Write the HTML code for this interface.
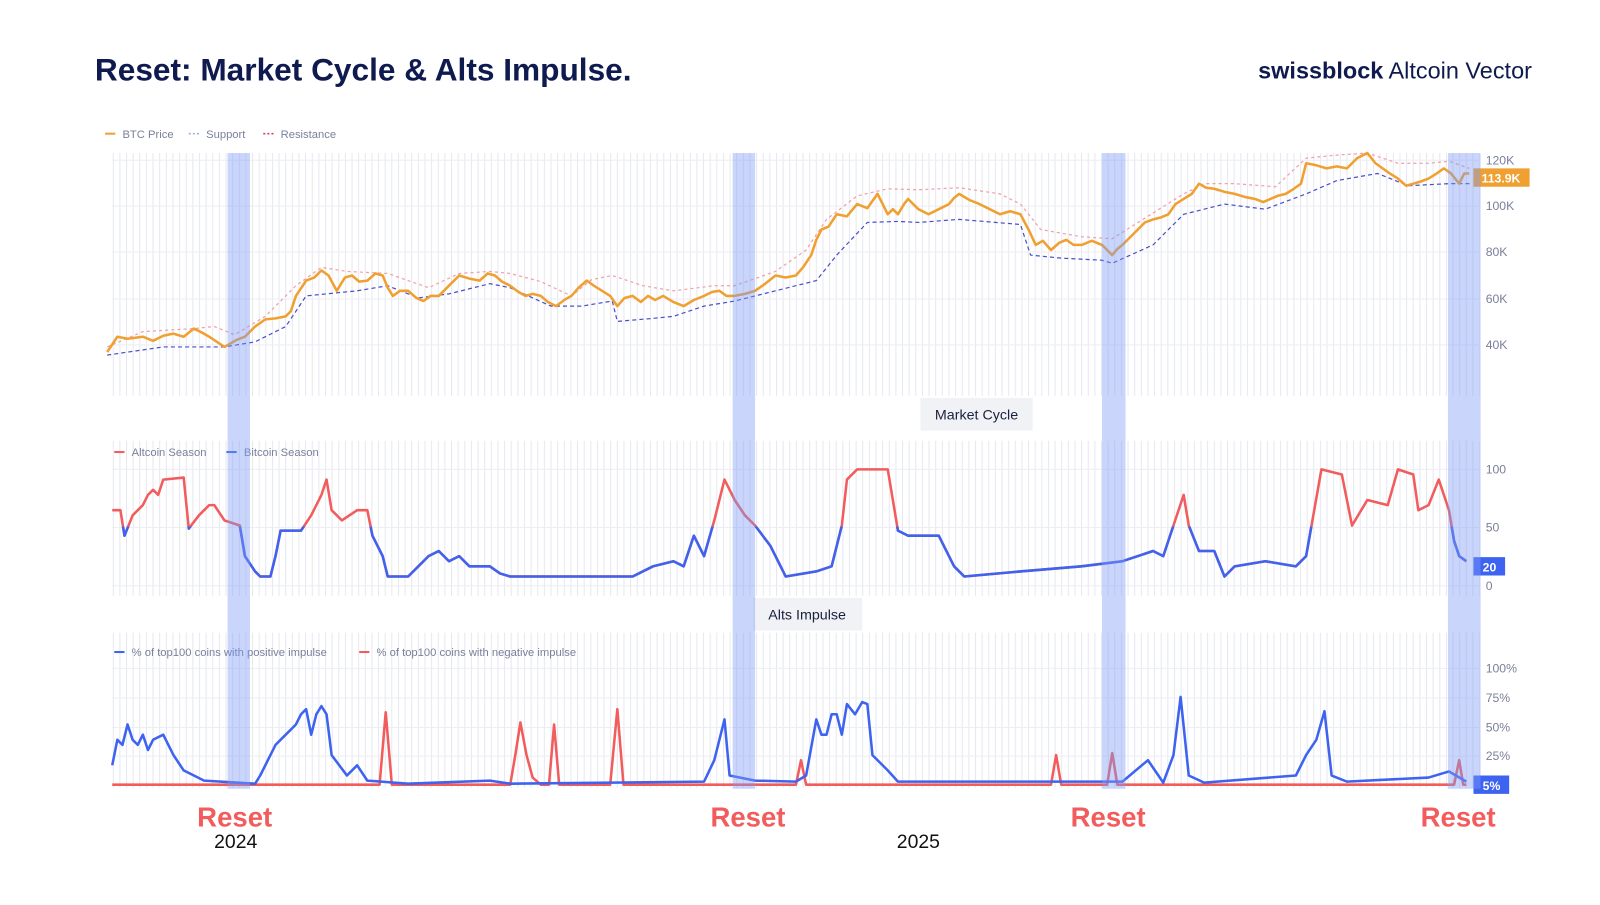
<!DOCTYPE html><html><head><meta charset="utf-8"><style>
body{margin:0;background:#fff;width:1600px;height:900px;overflow:hidden;font-family:"Liberation Sans",sans-serif}
</style></head><body>
<svg width="1600" height="900" xmlns="http://www.w3.org/2000/svg" font-family="Liberation Sans, sans-serif">
<defs>
<pattern id="vg" width="6.5" height="10" patternUnits="userSpaceOnUse"><line x1="0.5" y1="0" x2="0.5" y2="10" stroke="#e6e8f0" stroke-width="1"/></pattern>
<clipPath id="below"><rect x="0" y="516" width="1600" height="100"/></clipPath>
</defs>
<g transform="scale(1.0204)">
<text x="93" y="79" font-size="31" font-weight="bold" fill="#0f1a4f">Reset: Market Cycle &amp; Alts Impulse.</text>
<text x="1233" y="77" font-size="23" fill="#0f1a4f"><tspan font-weight="bold">swissblock</tspan> Altcoin Vector</text>
<rect x="110" y="150" width="1340" height="238" fill="url(#vg)"/>
<rect x="110" y="432" width="1340" height="152" fill="url(#vg)"/>
<rect x="110" y="620" width="1340" height="152" fill="url(#vg)"/>
<g stroke="#eceef4">
<line x1="110" y1="157" x2="1450" y2="157"/><line x1="110" y1="202" x2="1450" y2="202"/><line x1="110" y1="247" x2="1450" y2="247"/><line x1="110" y1="293" x2="1450" y2="293"/><line x1="110" y1="338" x2="1450" y2="338"/>
<line x1="110" y1="460" x2="1450" y2="460"/><line x1="110" y1="517" x2="1450" y2="517"/><line x1="110" y1="574" x2="1450" y2="574"/>
<line x1="110" y1="655" x2="1450" y2="655"/><line x1="110" y1="684" x2="1450" y2="684"/><line x1="110" y1="713" x2="1450" y2="713"/><line x1="110" y1="741" x2="1450" y2="741"/>
</g>
<g font-size="11" fill="#7a809a">
<line x1="103" y1="131" x2="113" y2="131" stroke="#f0a030" stroke-width="2"/><text x="120" y="135">BTC Price</text>
<line x1="185" y1="131" x2="195" y2="131" stroke="#9fb0e8" stroke-width="1.5" stroke-dasharray="2 2"/><text x="202" y="135">Support</text>
<line x1="258" y1="131" x2="268" y2="131" stroke="#d04060" stroke-width="1.5" stroke-dasharray="2 2"/><text x="275" y="135">Resistance</text>
<line x1="112" y1="443" x2="122" y2="443" stroke="#f25c5c" stroke-width="2"/><text x="129" y="447">Altcoin Season</text>
<line x1="222" y1="443" x2="232" y2="443" stroke="#3d63f0" stroke-width="2"/><text x="239" y="447">Bitcoin Season</text>
<line x1="112" y1="639" x2="122" y2="639" stroke="#3d63f0" stroke-width="2"/><text x="129" y="643">% of top100 coins with positive impulse</text>
<line x1="352" y1="639" x2="362" y2="639" stroke="#f25c5c" stroke-width="2"/><text x="369" y="643">% of top100 coins with negative impulse</text>
</g>
<g font-size="12" fill="#7a809a">
<text x="1456" y="161">120K</text><text x="1456" y="206">100K</text><text x="1456" y="251">80K</text><text x="1456" y="297">60K</text><text x="1456" y="342">40K</text>
<text x="1456" y="464">100</text><text x="1456" y="521">50</text><text x="1456" y="578">0</text>
<text x="1456" y="659">100%</text><text x="1456" y="688">75%</text><text x="1456" y="717">50%</text><text x="1456" y="745">25%</text>
</g>
<rect x="1444" y="165" width="55" height="18" fill="#f0a030"/><text x="1452" y="179" font-size="12" font-weight="bold" fill="#fff">113.9K</text>
<rect x="1444" y="546" width="31" height="18" fill="#3d63f0"/><text x="1453" y="560" font-size="12" font-weight="bold" fill="#fff">20</text>
<rect x="1444" y="760" width="35" height="18" fill="#3d63f0"/><text x="1453" y="774" font-size="12" font-weight="bold" fill="#fff">5%</text>
<rect x="902" y="390" width="110" height="32" fill="#f1f2f5"/><text x="957" y="411" font-size="14" text-anchor="middle" fill="#1a2040">Market Cycle</text>
<rect x="738" y="586" width="107" height="32" fill="#f1f2f5"/><text x="791" y="607" font-size="14" text-anchor="middle" fill="#1a2040">Alts Impulse</text>
<polyline fill="none" stroke="#f0a0a8" stroke-width="1.2" stroke-dasharray="3 3" points="105,340 140,325 190,322 210,320 230,328 260,310 290,280 315,262 340,266 380,268 420,282 450,268 480,266 500,268 530,276 560,290 580,274 600,270 630,280 660,285 700,280 720,280 760,266 790,245 810,215 840,192 870,185 900,186 940,184 980,190 1000,200 1020,225 1060,232 1090,234 1120,215 1160,190 1180,180 1210,180 1250,183 1280,155 1310,152 1340,150 1370,160 1400,160 1420,158 1440,165"/>
<polyline fill="none" stroke="#4a50c8" stroke-width="1.2" stroke-dasharray="4 3" points="105,348 160,340 220,340 250,335 280,320 300,290 350,285 380,280 410,292 440,288 480,278 500,282 540,300 570,300 600,295 605,315 640,312 660,310 690,300 720,295 760,285 800,275 820,250 850,218 880,217 900,218 940,215 1000,220 1010,250 1040,253 1080,255 1090,258 1130,240 1160,210 1200,200 1240,205 1280,190 1310,177 1350,170 1380,182 1420,180 1440,180"/>
<polyline fill="none" stroke="#f0a030" stroke-width="2.5" stroke-linejoin="round" points="105,345 115,330 125,332 140,330 150,334 160,329 170,327 180,330 190,322 198,326 205,330 220,340 232,333 240,330 250,320 260,313 270,312 280,310 285,305 290,290 300,275 308,272 315,265 322,270 330,285 338,272 345,270 352,276 360,275 368,268 375,270 380,282 385,290 392,285 400,285 408,292 415,295 422,290 430,290 440,280 450,270 460,273 470,275 478,268 485,270 492,276 500,280 508,286 515,290 522,288 530,290 537,296 545,300 553,294 560,290 567,282 575,275 582,280 590,285 598,290 605,300 612,292 620,290 628,296 635,290 642,294 650,290 660,296 670,300 680,294 690,290 698,286 705,285 712,290 720,290 730,288 740,285 750,278 760,270 770,272 780,270 787,262 795,250 800,235 805,225 812,222 820,210 830,212 840,200 850,204 860,190 865,200 870,210 875,205 880,210 886,200 890,195 900,205 910,210 920,205 930,200 935,194 940,190 950,196 960,200 970,205 980,210 990,207 1000,210 1008,225 1015,240 1022,236 1030,245 1038,238 1045,235 1052,240 1060,240 1070,236 1080,240 1086,246 1090,250 1095,244 1100,240 1108,232 1115,225 1122,218 1130,215 1138,213 1145,210 1152,200 1160,195 1168,190 1175,180 1182,184 1190,185 1200,188 1210,190 1220,193 1230,195 1238,198 1245,195 1252,192 1260,190 1268,185 1275,180 1280,160 1290,162 1300,165 1310,163 1320,165 1330,155 1340,150 1348,160 1355,165 1362,170 1370,175 1378,182 1385,180 1392,178 1400,175 1408,170 1415,165 1422,170 1430,180 1435,170 1440,170"/>
<polyline fill="none" stroke="#f25c5c" stroke-width="2.5" stroke-linejoin="round" points="110,500 118,500 122,525 130,505 140,495 145,485 150,480 155,485 160,470 180,468 185,518 195,505 205,495 210,495 220,510 235,515 240,545 250,560 255,565 265,565 270,545 275,520 285,520 295,520 305,505 315,485 320,470 325,500 335,510 350,500 360,500 365,525 375,545 380,565 400,565 410,555 420,545 430,540 440,550 450,545 460,555 480,555 490,562 500,565 560,565 620,565 640,555 660,550 670,555 680,525 690,545 700,510 710,470 720,490 730,505 740,515 755,535 765,555 770,565 800,560 815,555 825,515 830,470 840,460 870,460 880,520 890,525 900,525 920,525 935,555 945,565 1000,560 1060,555 1100,550 1130,540 1140,545 1150,515 1160,485 1165,515 1175,540 1190,540 1200,565 1210,555 1240,550 1270,555 1280,545 1295,460 1315,465 1325,515 1340,490 1360,495 1370,460 1385,465 1390,500 1400,495 1410,470 1420,500 1425,530 1430,545 1437,550"/>
<polyline fill="none" clip-path="url(#below)" stroke="#3d63f0" stroke-width="2.5" stroke-linejoin="round" points="110,500 118,500 122,525 130,505 140,495 145,485 150,480 155,485 160,470 180,468 185,518 195,505 205,495 210,495 220,510 235,515 240,545 250,560 255,565 265,565 270,545 275,520 285,520 295,520 305,505 315,485 320,470 325,500 335,510 350,500 360,500 365,525 375,545 380,565 400,565 410,555 420,545 430,540 440,550 450,545 460,555 480,555 490,562 500,565 560,565 620,565 640,555 660,550 670,555 680,525 690,545 700,510 710,470 720,490 730,505 740,515 755,535 765,555 770,565 800,560 815,555 825,515 830,470 840,460 870,460 880,520 890,525 900,525 920,525 935,555 945,565 1000,560 1060,555 1100,550 1130,540 1140,545 1150,515 1160,485 1165,515 1175,540 1190,540 1200,565 1210,555 1240,550 1270,555 1280,545 1295,460 1315,465 1325,515 1340,490 1360,495 1370,460 1385,465 1390,500 1400,495 1410,470 1420,500 1425,530 1430,545 1437,550"/>
<polyline fill="none" stroke="#f25c5c" stroke-width="2.5" stroke-linejoin="round" points="110,769 372,769 378,698 384,769 500,769 505,740 510,708 516,740 522,762 530,769 538,769 543,710 548,769 598,769 605,695 611,769 780,769 785,745 790,769 1030,769 1035,740 1040,769 1085,769 1090,738 1095,769 1425,769 1430,745 1434,769 1437,769"/>
<polyline fill="none" stroke="#3d63f0" stroke-width="2.5" stroke-linejoin="round" points="110,750 115,725 120,730 125,710 130,725 135,730 140,720 145,735 150,725 160,720 165,730 170,740 180,755 200,765 250,768 255,760 260,750 270,730 280,720 290,710 295,700 300,695 305,720 310,700 315,692 320,700 325,740 340,760 350,750 360,765 400,768 480,765 500,768 690,766 700,745 705,725 710,705 715,760 740,765 780,766 790,760 800,705 805,720 810,720 815,700 820,700 825,720 830,690 838,700 845,688 850,690 855,740 870,755 880,766 1100,766 1125,745 1140,767 1150,740 1157,683 1165,760 1180,767 1270,760 1280,740 1290,725 1298,697 1305,760 1320,766 1400,762 1420,756 1437,766"/>
<g fill="#7f9cf5" fill-opacity="0.42">
<rect x="223" y="150" width="22" height="623"/><rect x="718" y="150" width="22" height="623"/><rect x="1080" y="150" width="23" height="623"/><rect x="1419" y="150" width="32" height="623"/>
</g>
<g font-size="27" font-weight="bold" fill="#f25c5c" text-anchor="middle">
<text x="230" y="810">Reset</text><text x="733" y="810">Reset</text><text x="1086" y="810">Reset</text><text x="1429" y="810">Reset</text>
</g>
<text x="231" y="831" font-size="19" text-anchor="middle" fill="#111">2024</text>
<text x="900" y="831" font-size="19" text-anchor="middle" fill="#111">2025</text>
</g>
</svg>
</body></html>
